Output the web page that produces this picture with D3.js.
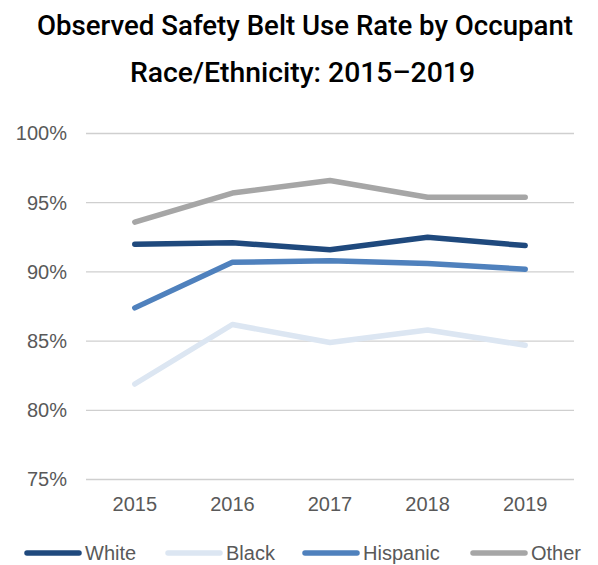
<!DOCTYPE html>
<html>
<head>
<meta charset="utf-8">
<script src="https://cdn.jsdelivr.net/npm/d3@7"></script>
<style>
  body { margin: 0; background: #fff; }
  svg { display: block; }
</style>
</head>
<body>
<div id="chart"></div>
<script>
// data
var years = ["2015", "2016", "2017", "2018", "2019"];
var white = [92.0, 92.1, 91.6, 92.5, 91.9];
var black = [81.9, 86.2, 84.9, 85.8, 84.7];
var hispanic = [87.4, 90.7, 90.8, 90.6, 90.2];
var other = [93.6, 95.7, 96.6, 95.4, 95.4];
var yTicks = [75, 80, 85, 90, 95, 100];

var seriesNames = ["White", "Black", "Hispanic", "Other"];
var seriesValues = [white, black, hispanic, other];
var colors = ["#1f497d", "#dce6f2", "#4f81bd", "#a6a6a6"];

var width = 598, height = 565;
var margin = {top: 133.5, right: 24, bottom: 85.5, left: 86};

var svg = d3.select("#chart").append("svg")
    .attr("width", width)
    .attr("height", height);

// title
var title = svg.append("g")
    .attr("font-family", "Roboto, 'Liberation Sans', sans-serif")
    .attr("font-weight", 500)
    .attr("font-size", 28)
    .attr("fill", "#000")
    .attr("text-anchor", "middle");
title.append("text").attr("x", 305).attr("y", 35)
    .attr("textLength", 536).attr("lengthAdjust", "spacingAndGlyphs")
    .text("Observed Safety Belt Use Rate by Occupant");
title.append("text").attr("x", 302.5).attr("y", 82)
    .attr("textLength", 345).attr("lengthAdjust", "spacingAndGlyphs")
    .text("Race/Ethnicity: 2015\u20132019");

var x = d3.scaleBand()
    .domain(years)
    .range([margin.left, width - margin.right]);

var y = d3.scaleLinear()
    .domain([75, 100])
    .range([height - margin.bottom, margin.top]);

// gridlines
svg.append("g").selectAll("line")
    .data(yTicks)
    .enter().append("line")
    .attr("x1", margin.left)
    .attr("x2", width - margin.right)
    .attr("y1", function(d) { return y(d); })
    .attr("y2", function(d) { return y(d); })
    .attr("stroke", "#cfcfcf")
    .attr("stroke-width", 1.3);

// y axis labels
var yAxis = d3.axisLeft(y)
    .tickValues(yTicks)
    .tickSize(0)
    .tickPadding(19)
    .tickFormat(function(d) { return d + "%"; });
svg.append("g")
    .attr("transform", "translate(" + margin.left + ",0)")
    .call(yAxis)
    .call(function(g) { g.select(".domain").remove(); })
    .selectAll("text")
    .attr("font-family", "'Liberation Sans', Arial, sans-serif")
    .attr("font-size", 20)
    .attr("fill", "#595959");

// x axis labels
var xAxis = d3.axisBottom(x).tickSize(0).tickPadding(17);
svg.append("g")
    .attr("transform", "translate(0," + (height - margin.bottom) + ")")
    .call(xAxis)
    .call(function(g) { g.select(".domain").remove(); })
    .selectAll("text")
    .attr("font-family", "'Liberation Sans', Arial, sans-serif")
    .attr("font-size", 20)
    .attr("fill", "#595959");

// lines
var line = d3.line()
    .x(function(d, i) { return x(years[i]) + x.bandwidth() / 2; })
    .y(function(d) { return y(d); });

svg.append("g").selectAll("path")
    .data(seriesValues)
    .enter().append("path")
    .attr("d", line)
    .attr("fill", "none")
    .attr("stroke", function(d, i) { return colors[i]; })
    .attr("stroke-width", 5.5)
    .attr("stroke-linecap", "round")
    .attr("stroke-linejoin", "round");

// legend
var legendX = [25, 166, 303, 471];
var legend = svg.append("g").selectAll("g")
    .data(seriesNames)
    .enter().append("g")
    .attr("transform", function(d, i) { return "translate(" + legendX[i] + ",553)"; });
legend.append("line")
    .attr("x1", 2).attr("x2", 54)
    .attr("stroke", function(d, i) { return colors[i]; })
    .attr("stroke-width", 5.5)
    .attr("stroke-linecap", "round");
legend.append("text")
    .attr("x", 60)
    .attr("y", 7)
    .attr("font-family", "'Liberation Sans', Arial, sans-serif")
    .attr("font-size", 20)
    .attr("fill", "#595959")
    .text(function(d) { return d; });
</script>
</body>
</html>
